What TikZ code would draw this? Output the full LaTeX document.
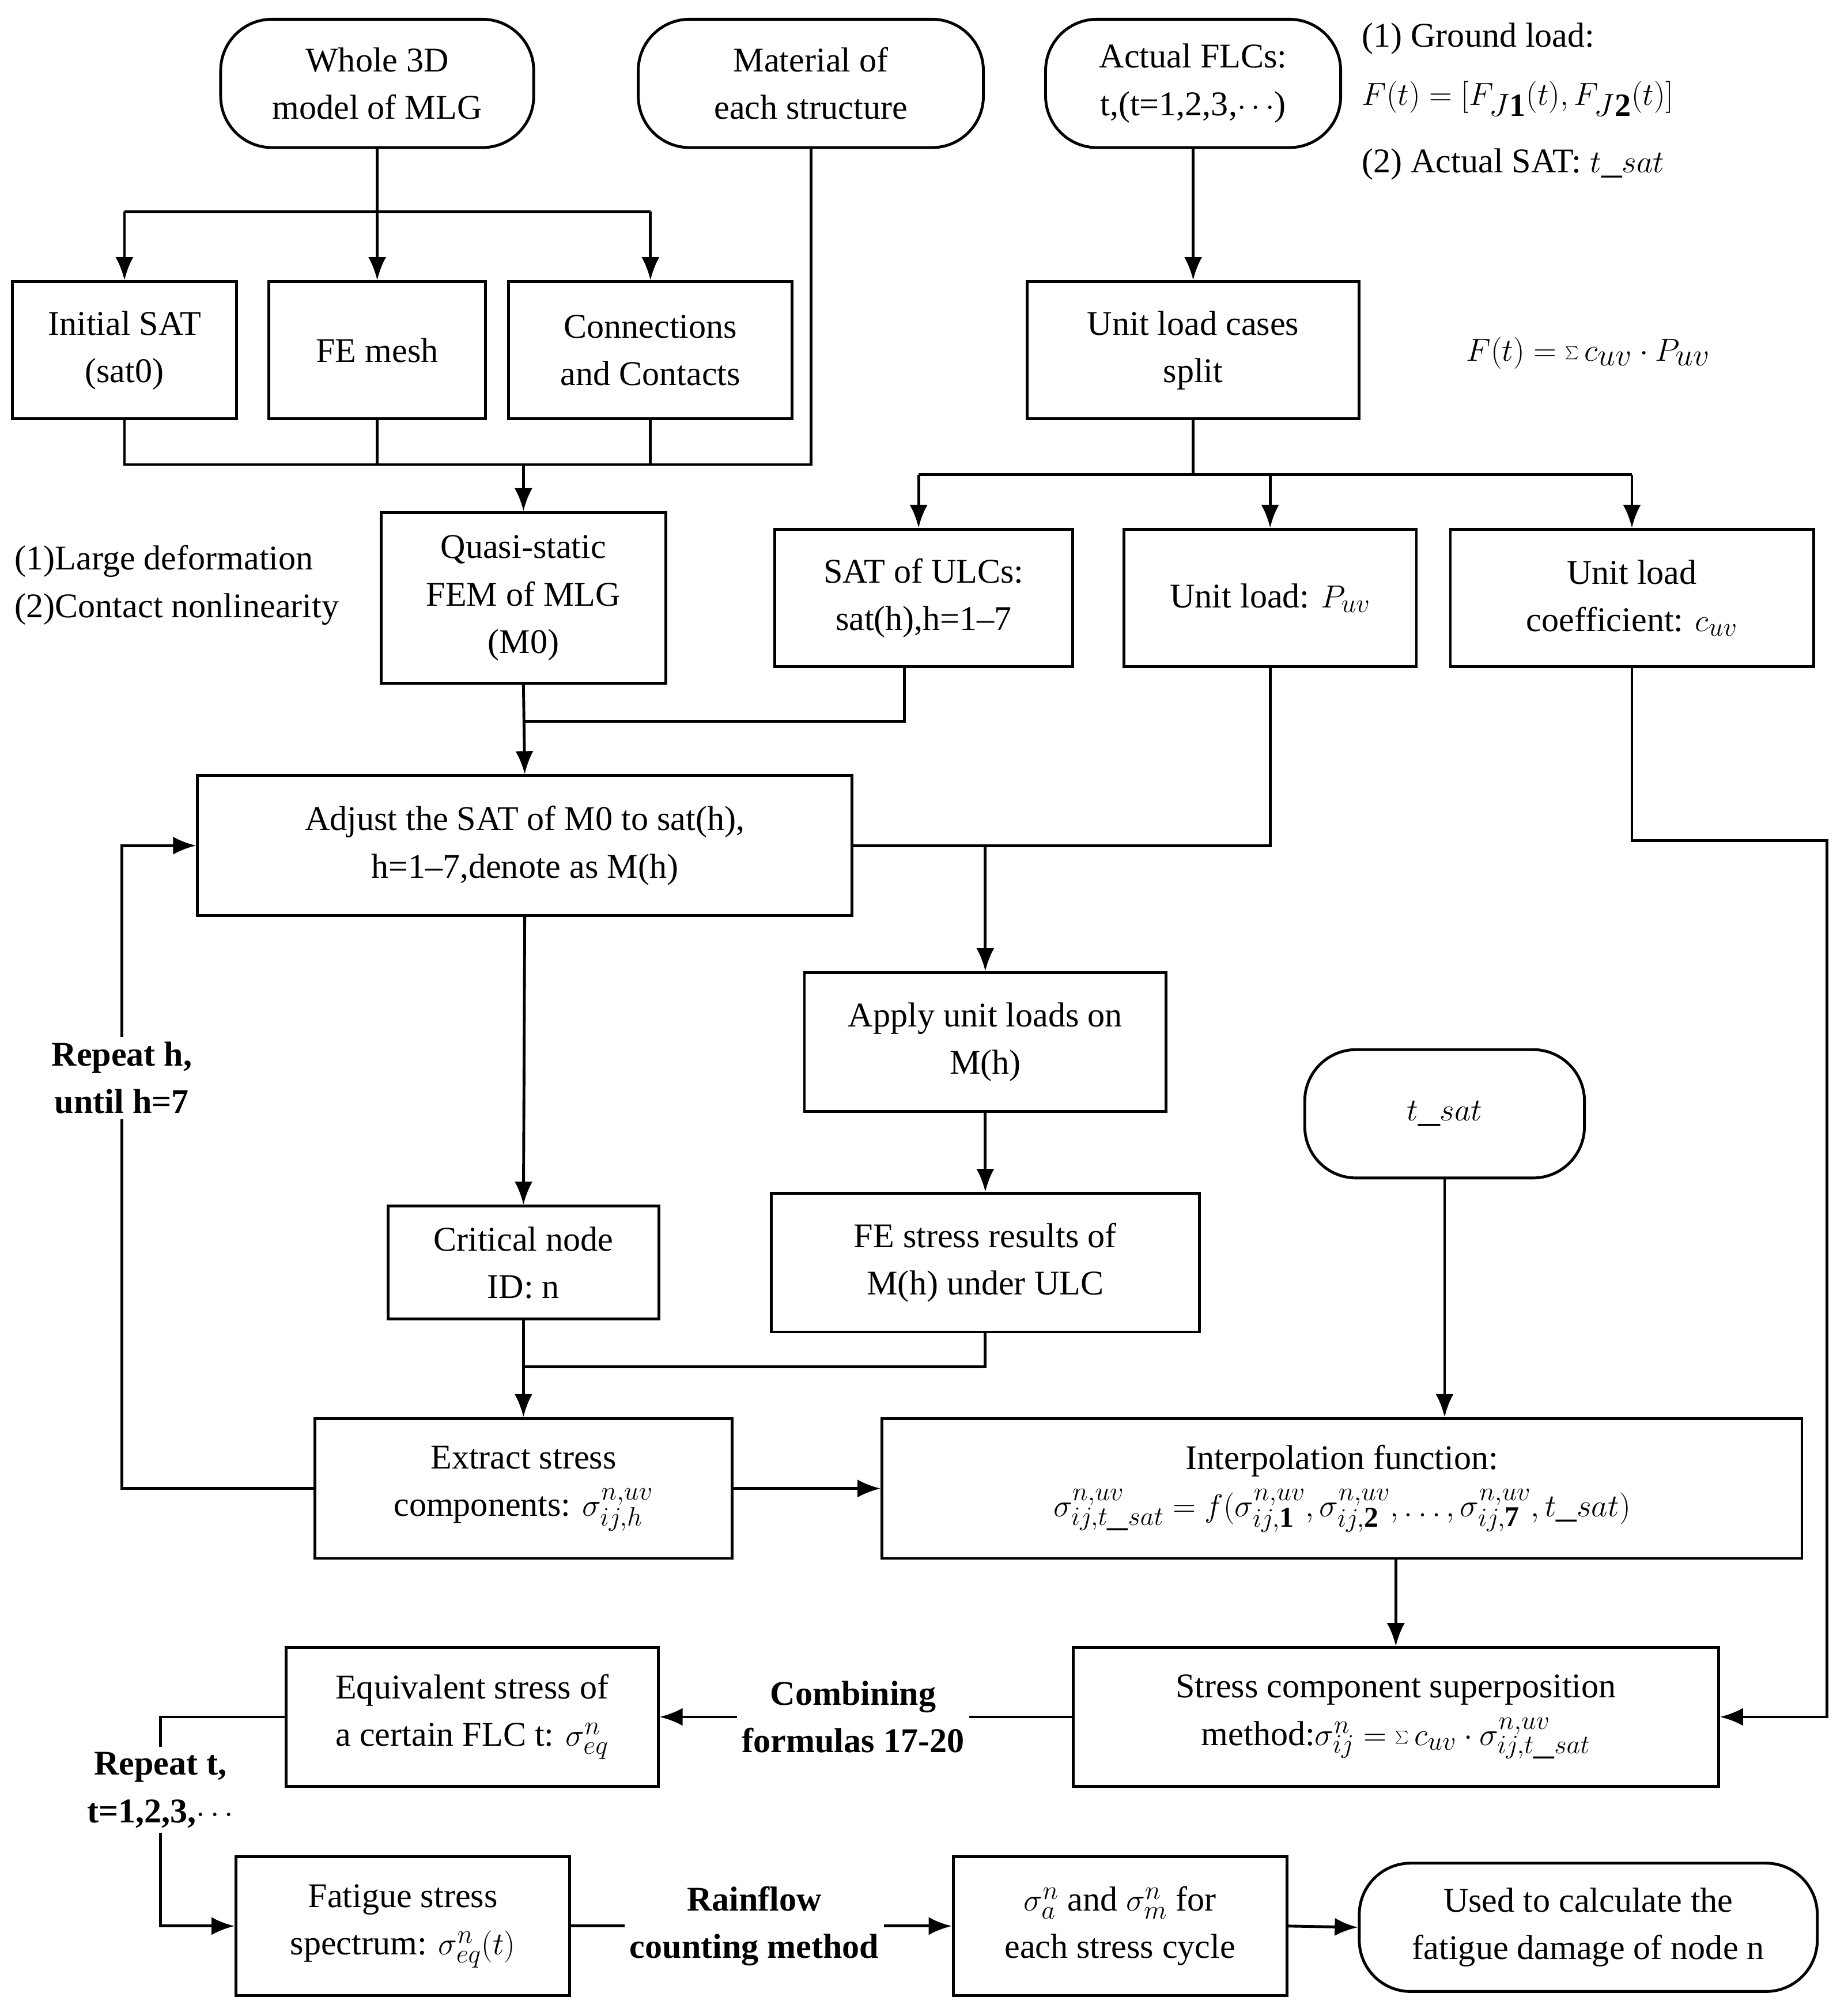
\documentclass[tikz,border=0pt]{standalone}
\usepackage{fontspec}
\setmainfont{Liberation Serif}
\usetikzlibrary{arrows.meta}
\begin{document}
\begin{tikzpicture}[x=1pt,y=-1pt,
  every node/.style={font=\fontsize{27}{37}\selectfont},
  box/.style={draw,line width=2.2pt,align=center,inner sep=0pt},
  term/.style={box,rounded corners=40pt},
  ln/.style={line width=2.2pt},
  ar/.style={ln,-{Latex[length=18pt,width=14pt]}},
  lab/.style={align=center,font=\fontsize{27}{37}\selectfont\bfseries,fill=white,inner sep=4pt}]
\useasboundingbox (0,0) rectangle (1440,1568);
% nodes
\node[term,minimum width=244pt,minimum height=100pt] (whole) at (294,65) {Whole 3D\\model of MLG};
\node[term,minimum width=269pt,minimum height=100pt] (mat) at (632,65) {Material of\\each structure};
\node[term,minimum width=230pt,minimum height=100pt] (act) at (930,65) {Actual FLCs:\\t,(t=1,2,3,$\cdots$)};
\node[anchor=west] (g1) at (1058,30) {(1) Ground load:};
\node[anchor=west,font=\fontsize{36}{40}\selectfont] (g2) at (1058,77) {$F(t)=[F_{J\mathbf{1}}(t),F_{J\mathbf{2}}(t)]$};
\node[anchor=west] (g3) at (1058,128) {(2) Actual SAT: {\fontsize{32}{36}\selectfont$t\_sat$}};
\node[box,minimum width=175pt,minimum height=107pt] (init) at (97,273) {Initial SAT\\(sat0)};
\node[box,minimum width=169pt,minimum height=107pt] (fem) at (294,273) {FE mesh};
\node[box,minimum width=221pt,minimum height=107pt] (conn) at (507,273) {Connections\\and Contacts};
\node[box,minimum width=259pt,minimum height=107pt] (ulc) at (930,273) {Unit load cases\\split};
\node[font=\fontsize{36}{40}\selectfont] (f2) at (1238,275) {$F(t)=\sum c_{uv}\cdot P_{uv}$};
\node[box,minimum width=222pt,minimum height=133pt] (quasi) at (408,466) {Quasi-static\\FEM of MLG\\(M0)};
\node[anchor=west,align=left] (nl) at (8,456) {(1)Large deformation\\(2)Contact nonlinearity};
\node[box,minimum width=232pt,minimum height=107pt] (sat) at (720,466) {SAT of ULCs:\\sat(h),h=1--7};
\node[box,minimum width=228pt,minimum height=107pt] (up) at (990,466) {Unit load: {\fontsize{32}{36}\selectfont$P_{uv}$}};
\node[box,minimum width=283pt,minimum height=107pt] (coef) at (1272,466) {Unit load\\coefficient: {\fontsize{32}{36}\selectfont$c_{uv}$}};
\node[box,minimum width=510pt,minimum height=109pt] (adj) at (409,659) {Adjust the SAT of M0 to sat(h),\\h=1--7,denote as M(h)};
\node[box,minimum width=282pt,minimum height=108pt] (app) at (768,812) {Apply unit loads on\\M(h)};
\node[term,minimum width=218pt,minimum height=100pt,font=\fontsize{34}{38}\selectfont] (ts) at (1126,868) {$t\_sat$};
\node[box,minimum width=211pt,minimum height=88pt] (crit) at (408,984) {Critical node\\ID: n};
\node[box,minimum width=334pt,minimum height=108pt] (fes) at (768,984) {FE stress results of\\M(h) under ULC};
\node[box,minimum width=325pt,minimum height=109pt] (ext) at (408,1160) {Extract stress\\components: {\fontsize{32}{36}\selectfont$\sigma_{ij,h}^{n,uv}$}};
\node[box,minimum width=717pt,minimum height=109pt] (int) at (1046,1160) {Interpolation function:\\{\fontsize{32}{36}\selectfont$\sigma_{ij,t\_sat}^{n,uv}=f(\sigma_{ij,\mathbf{1}}^{n,uv},\sigma_{ij,\mathbf{2}}^{n,uv},\ldots,\sigma_{ij,\mathbf{7}}^{n,uv},t\_sat)$}};
\node[box,minimum width=503pt,minimum height=108pt] (sc) at (1088,1338) {Stress component superposition\\method:{\fontsize{32}{36}\selectfont$\sigma_{ij}^{n}=\sum c_{uv}\cdot\sigma_{ij,t\_sat}^{n,uv}$}};
\node[box,minimum width=290pt,minimum height=108pt] (eq) at (368,1338) {Equivalent stress of\\a certain FLC t: {\fontsize{32}{36}\selectfont$\sigma_{eq}^{n}$}};
\node[box,minimum width=260pt,minimum height=108pt] (fat) at (314,1501) {Fatigue stress\\spectrum: {\fontsize{32}{36}\selectfont$\sigma_{eq}^{n}(t)$}};
\node[box,minimum width=260pt,minimum height=108pt] (sig) at (873,1501) {{\fontsize{32}{36}\selectfont$\sigma_{a}^{n}$} and {\fontsize{32}{36}\selectfont$\sigma_{m}^{n}$} for\\each stress cycle};
\node[term,minimum width=357pt,minimum height=100pt] (used) at (1238,1502) {Used to calculate the\\fatigue damage of node n};
% coordinates
\coordinate (w1) at (294,165); \coordinate (wl) at (97,165); \coordinate (wr) at (507,165);
\coordinate (m1) at (97,362); \coordinate (m2) at (294,362); \coordinate (m3) at (507,362);
\coordinate (m4) at (632,362); \coordinate (mq) at (408,362);
\coordinate (u1) at (930,370); \coordinate (ul) at (716,370); \coordinate (uc) at (990,370); \coordinate (ur) at (1272,370);
\coordinate (s1) at (705,562); \coordinate (s2) at (408,562);
\coordinate (p1) at (990,659); \coordinate (p2) at (768,659);
\coordinate (e1) at (768,1065); \coordinate (e2) at (408,1065);
\coordinate (x1) at (95,1160); \coordinate (x2) at (95,659);
\coordinate (c1) at (1272,655); \coordinate (c2) at (1424,655); \coordinate (c3) at (1424,1338);
\coordinate (q1) at (125,1338); \coordinate (q2) at (125,1501);
% connectors
\draw[ln] (whole.south) -- (w1) (wl) -- (wr);
\draw[ar] (wl) -- (init.north); \draw[ar] (w1) -- (fem.north); \draw[ar] (wr) -- (conn.north);
\draw[ln] (init.south) -- (m1) -- (m4) -- (mat.south);
\draw[ln] (fem.south) -- (m2) (conn.south) -- (m3);
\draw[ar] (mq) -- (quasi.north);
\draw[ar] (act.south) -- (ulc.north);
\draw[ln] (ulc.south) -- (u1) (ul) -- (ur);
\draw[ar] (ul) -- (sat.north -| ul); \draw[ar] (uc) -- (up.north); \draw[ar] (ur) -- (coef.north);
\draw[ar] (quasi.south) -- (adj.north);
\draw[ln] (sat.south -| s1) -- (s1) -- (s2);
\draw[ln] (up.south) -- (p1) -- (adj.east |- p1);
\draw[ar] (p2) -- (app.north);
\draw[ar] (adj.south) -- (crit.north);
\draw[ar] (app.south) -- (fes.north);
\draw[ar] (crit.south) -- (ext.north);
\draw[ln] (fes.south) -- (e1) -- (e2);
\draw[ar] (ext.west) -- (x1) -- (x2) -- (adj.west);
\draw[ar] (ext.east) -- (int.west);
\draw[ar] (ts.south) -- (int.north -| ts.south);
\draw[ar] (int.south -| sc.north) -- (sc.north);
\draw[ar] (coef.south) -- (c1) -- (c2) -- (c3) -- (sc.east);
\draw[ar] (sc.west) -- (eq.east);
\draw[ar] (eq.west) -- (q1) -- (q2) -- (fat.west);
\draw[ar] (fat.east) -- (sig.west);
\draw[ar] (sig.east) -- (used.west);
% labels
\node[lab] (lh) at (95,840) {Repeat h,\\until h=7};
\node[lab] (lc) at (665,1338) {Combining\\formulas 17-20};
\node[lab] (lt) at (125,1395) {Repeat t,\\t=1,2,3,$\cdots$};
\node[lab] (lr) at (588,1501) {Rainflow\\counting method};
\end{tikzpicture}
\end{document}
